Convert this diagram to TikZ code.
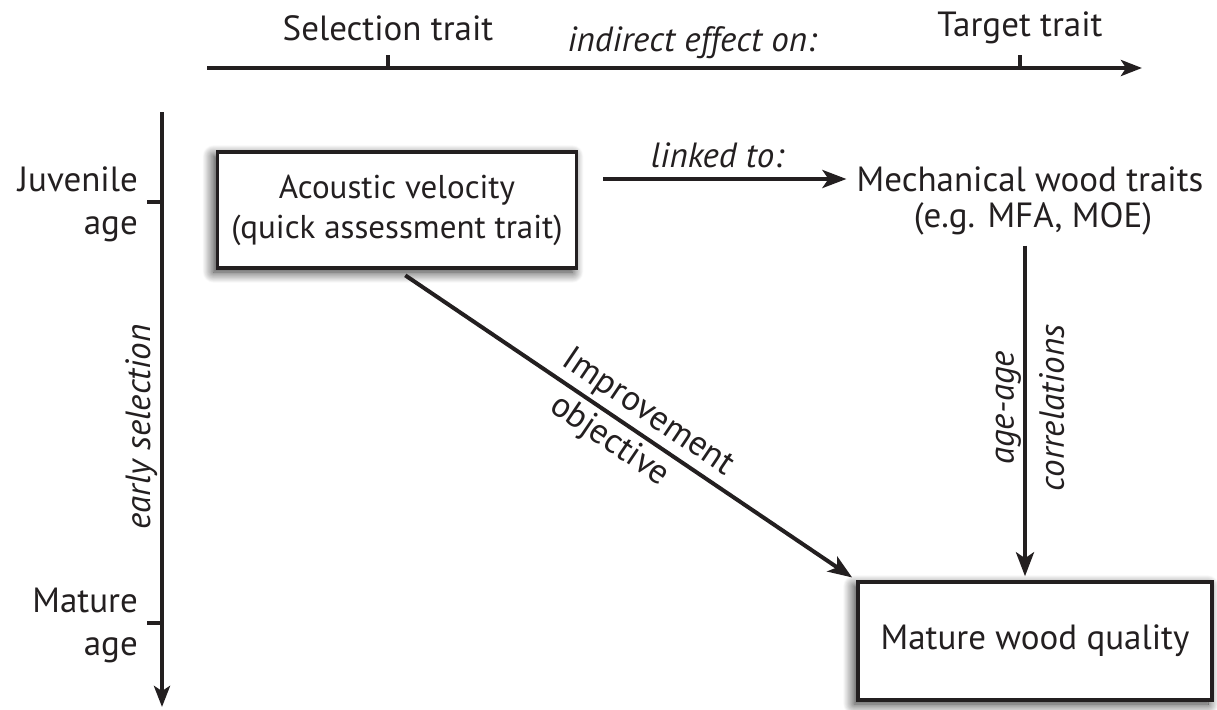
\documentclass[tikz,border=0pt]{standalone}
\usepackage{fontspec}
\setmainfont{PT Sans}
\usetikzlibrary{arrows.meta, positioning, shadows.blur}
\definecolor{Ink}{HTML}{231F20}

\begin{document}
\begin{tikzpicture}[x=1pt, y=-1pt,
    lbl/.style={font=\fontsize{35}{40}\selectfont, text=Ink, inner sep=0pt},
    boxlbl/.style={font=\fontsize{33}{40}\selectfont, text=Ink},
    ital/.style={font=\fontsize{35}{40}\selectfont\itshape, text=Ink, inner sep=0pt},
    agelbl/.style={font=\fontsize{35}{43}\selectfont, text=Ink, inner sep=0pt, align=right, anchor=east},
    traitbox/.style={draw=Ink, line width=3.5pt, fill=white, align=center, inner sep=0pt,
      blur shadow={shadow xshift=-4pt, shadow yshift=-4pt, shadow blur radius=11pt,
        shadow blur steps=16, shadow opacity=85}},
    axis/.style={draw=Ink, line width=4.5pt, -{Stealth[length=21pt, width=16pt, inset=5pt]}},
    link/.style={draw=Ink, line width=4pt, -{Stealth[length=24pt, width=18pt, inset=6pt]}},
    tick/.style={draw=Ink, line width=4pt}]
  \useasboundingbox (0,0) rectangle (1217,709);

  % axes
  \coordinate (hs) at (207,68);
  \coordinate (he) at (1142,68);
  \coordinate (vs) at (162,112);
  \coordinate (ve) at (162,707);
  \draw[axis] (hs) -- (he);
  \draw[axis] (vs) -- (ve);
  \draw[tick] (388,69) -- ++(0,-14);
  \draw[tick] (1020,69) -- ++(0,-14);
  \draw[tick] (163,202) -- ++(-16,0);
  \draw[tick] (163,623) -- ++(-16,0);

  % axis labels
  \node[lbl] (sel) at (388,28) {Selection trait};
  \node[lbl] (tgt) at (1020,28) {Target trait};
  \node[ital] (ind) at (692,43) {indirect effect on:};
  \node[agelbl] (juv) at (138,204) {Juvenile\\age};
  \node[agelbl] (mat) at (138,625) {Mature\\age};
  \node[ital, rotate=90, anchor=base] (early) at (150,427) {early selection};

  % traits
  \node[traitbox, boxlbl, minimum width=359pt, minimum height=116pt] (ac) at (397,210)
    {Acoustic velocity\\(quick assessment trait)};
  \node[lbl] (mech) at (1030,179) {Mechanical wood traits};
  \node[lbl] (eg) at (1033,219) {(e.g. MFA, MOE)};
  \node[traitbox, lbl, minimum width=354pt, minimum height=118pt] (mwq) at (1035,641)
    {Mature wood quality};

  % connectors
  \draw[link, shorten <=25pt, shorten >=10pt] (ac.east |- mech.west) -- (mech.west)
    node[ital, midway, above=9pt] (lt) {linked to:};
  \draw[link, shorten <=10pt, shorten >=4pt] ([xshift=-8pt]eg.south) -- ([xshift=-10pt]mwq.north)
    node[ital, pos=0.5, rotate=90, anchor=south, yshift=2pt] (aa) {age-age}
    node[ital, pos=0.5, rotate=90, anchor=north, yshift=-12pt] (corr) {correlations};
  \draw[link, shorten <=10pt, shorten >=5pt] (ac.south) -- (mwq.north west)
    node[lbl, sloped, above=4pt, pos=0.52] (imp) {Improvement}
    node[lbl, sloped, below=5pt, pos=0.49] (obj) {objective};
\end{tikzpicture}
\end{document}
